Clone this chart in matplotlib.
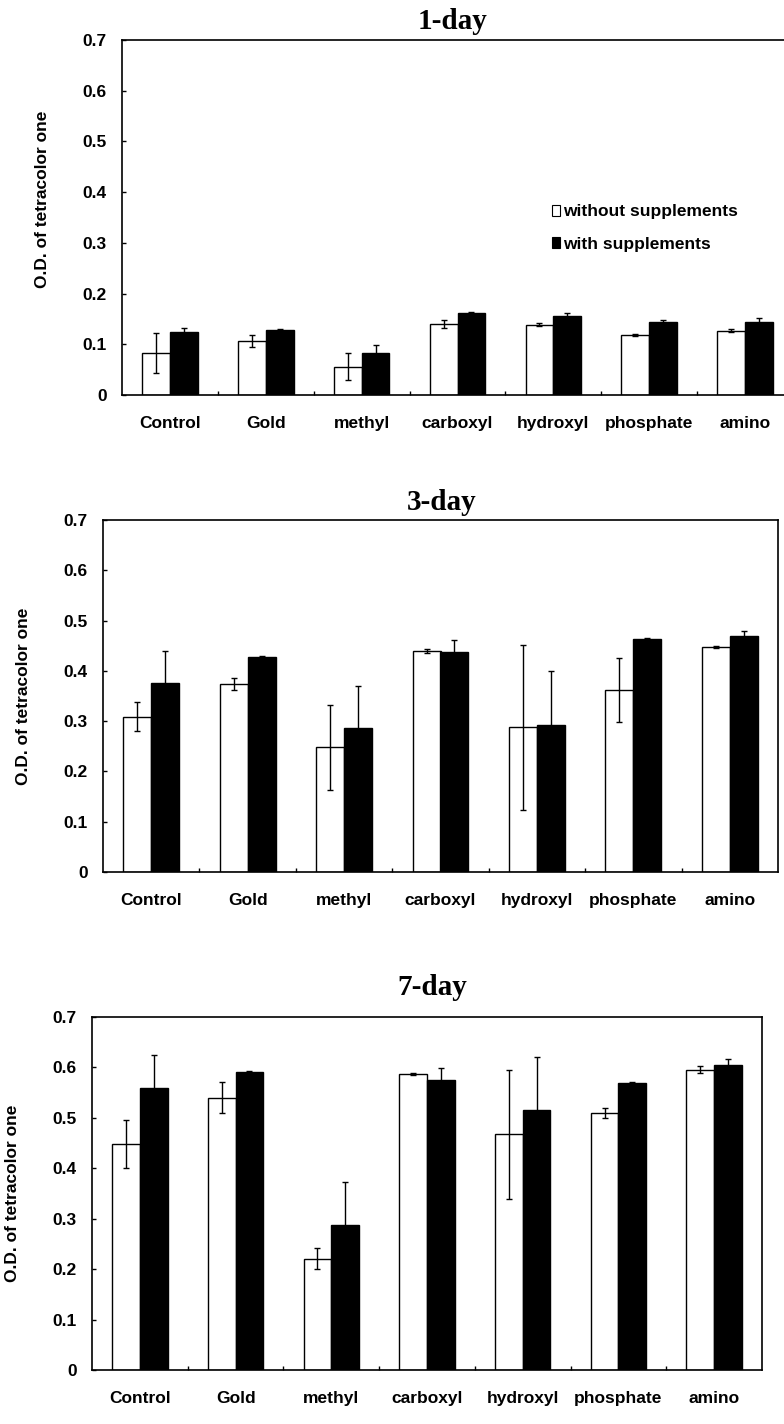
import matplotlib
matplotlib.use("Agg")
import matplotlib.pyplot as plt
import numpy as np
from matplotlib.patches import Patch

plt.rcParams['font.family'] = ['Liberation Sans', 'DejaVu Sans']

categories = ["Control", "Gold", "methyl", "carboxyl", "hydroxyl", "phosphate", "amino"]

day1_without = [0.083, 0.107, 0.056, 0.140, 0.139, 0.119, 0.127]
day1_without_err = [0.039, 0.012, 0.026, 0.007, 0.002, 0.002, 0.003]
day1_with = [0.124, 0.128, 0.082, 0.161, 0.155, 0.143, 0.144]
day1_with_err = [0.008, 0.003, 0.017, 0.003, 0.007, 0.005, 0.007]

day3_without = [0.309, 0.374, 0.248, 0.439, 0.288, 0.362, 0.448]
day3_without_err = [0.029, 0.012, 0.084, 0.004, 0.164, 0.064, 0.002]
day3_with = [0.376, 0.427, 0.286, 0.438, 0.293, 0.464, 0.469]
day3_with_err = [0.064, 0.002, 0.084, 0.023, 0.106, 0.002, 0.011]

day7_without = [0.448, 0.540, 0.221, 0.587, 0.467, 0.509, 0.595]
day7_without_err = [0.048, 0.031, 0.020, 0.002, 0.127, 0.010, 0.007]
day7_with = [0.560, 0.591, 0.288, 0.575, 0.515, 0.570, 0.605]
day7_with_err = [0.065, 0.002, 0.084, 0.023, 0.106, 0.002, 0.011]

titles = ["1-day", "3-day", "7-day"]
yticks = [0, 0.1, 0.2, 0.3, 0.4, 0.5, 0.6, 0.7]
ytick_labels = ["0", "0.1", "0.2", "0.3", "0.4", "0.5", "0.6", "0.7"]
ylabel = "O.D. of tetracolor one"
legend_labels = ["without supplements", "with supplements"]

W, H = 784, 1424
fig = plt.figure(figsize=(W / 100, H / 100), dpi=100)

# axes boxes in pixels: left, right, top(0.7), bottom(0)
boxes = [(122, 793, 40, 395), (103, 778, 520, 872), (92, 762, 1017, 1370)]
title_pos = [(452, 29), (442, 510), (432, 995)]
ylab_y = [0.55, 0.5, 0.5]

panels = [
    (day1_without, day1_without_err, day1_with, day1_with_err),
    (day3_without, day3_without_err, day3_with, day3_with_err),
    (day7_without, day7_without_err, day7_with, day7_with_err),
]

x = np.arange(len(categories))
bw = 0.29

for i, (box, data) in enumerate(zip(boxes, panels)):
    l, r, t, b = box
    ax = fig.add_axes([l / W, 1 - b / H, (r - l) / W, (b - t) / H])
    wo, woe, wi, wie = data
    ax.bar(x - bw / 2, wo, bw, color='white', edgecolor='black', linewidth=1.0, zorder=2)
    ax.bar(x + bw / 2, wi, bw, color='black', edgecolor='black', linewidth=1.0, zorder=2)
    ax.errorbar(x - bw / 2, wo, yerr=woe, fmt='none', ecolor='black', elinewidth=1.0,
                capsize=2.2, capthick=1.0, zorder=3)
    ax.errorbar(x + bw / 2, wi, yerr=wie, fmt='none', ecolor='black', elinewidth=1.0,
                capsize=2.2, capthick=1.0, zorder=1)
    ax.set_xlim(-0.5, len(categories) - 0.5)
    ax.set_ylim(0, 0.7)
    ax.set_yticks(yticks)
    ax.set_yticklabels(ytick_labels, fontsize=12.5, fontweight='bold')
    ax.set_xticks(x)
    ax.set_xticklabels(categories, fontsize=12.5, fontweight='bold')
    ax.set_xticks(np.arange(0.5, len(categories) - 0.5, 1.0), minor=True)
    ax.tick_params(axis='x', which='major', length=0, pad=15)
    ax.tick_params(axis='x', which='minor', direction='in', length=3, width=1)
    ax.tick_params(axis='y', direction='in', length=3, width=1, pad=11)
    for sp in ax.spines.values():
        sp.set_linewidth(1.2)
        sp.set_color('black')
    ax.set_ylabel(ylabel, fontsize=12.5, fontweight='bold')
    ax.yaxis.set_label_coords(-72 / (r - l), ylab_y[i])
    tx, ty = title_pos[i]
    fig.text(tx / W, 1 - ty / H, titles[i], ha='center', va='baseline',
             fontsize=21, fontweight='bold', family=['Liberation Serif', 'DejaVu Serif'])
    if i == 0:
        handles = [Patch(facecolor='white', edgecolor='black', linewidth=0.8),
                   Patch(facecolor='black', edgecolor='black', linewidth=0.8)]
        ax.legend(handles, legend_labels, loc='center left', bbox_to_anchor=(0.628, 0.47),
                  frameon=False, handlelength=0.45, handleheight=0.6, handletextpad=0.2,
                  labelspacing=1.0, prop={'weight': 'bold', 'size': 12.5}, borderpad=0)

fig.savefig("out.png", dpi=100, facecolor='white')
